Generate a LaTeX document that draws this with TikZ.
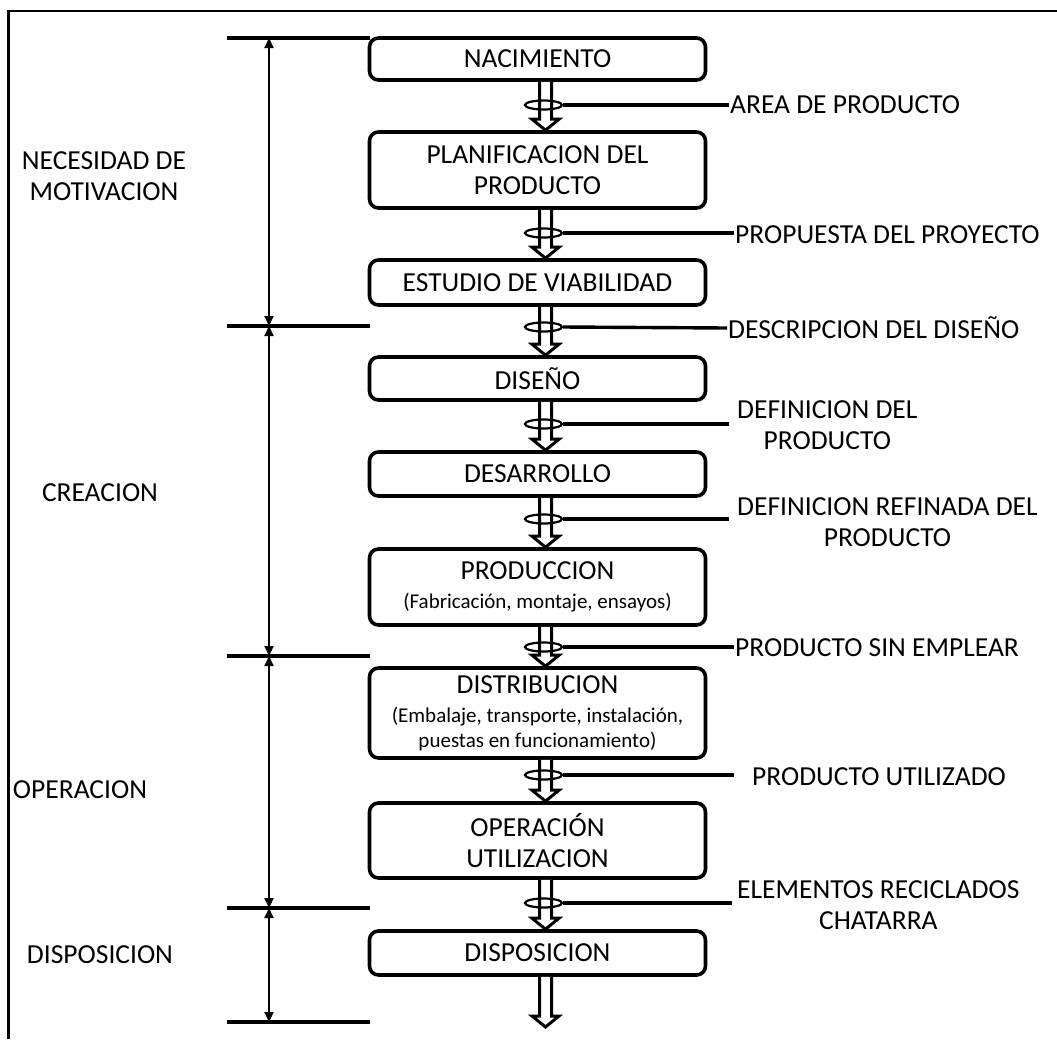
\documentclass[tikz,border=0pt]{standalone}
\usepackage{fontspec}
\setmainfont{Carlito}
\usetikzlibrary{shapes.geometric,arrows.meta,calc}

% hollow block arrow from a box bottom to the next box top
\newcommand{\flowarrow}[2]{%
  \draw[flow] let \p1=(#1), \p2=(#2) in
    (\x1+2pt,\y1) -- (\x1+2pt,\y2+11pt) -- (\x1-5.5pt,\y2+11pt) --
    (\x1+8pt,\y2) -- (\x1+21.5pt,\y2+11pt) -- (\x1+14pt,\y2+11pt) --
    (\x1+14pt,\y1);}

\begin{document}
\begin{tikzpicture}[x=1pt,y=-1pt,
  stage/.style={draw, line width=3.6pt, rounded corners=9pt, fill=white,
    minimum width=336pt, inner sep=0pt, align=center,
    font=\fontsize{27.5}{31}\selectfont},
  flow/.style={draw, fill=white, line width=3pt, line join=miter},
  ring/.style={ellipse, draw, line width=2.2pt, minimum width=37pt,
    minimum height=9pt, inner sep=0pt},
  lead/.style={line width=3.4pt},
  lbl/.style={inner sep=1pt, align=center, font=\fontsize{27.5}{31.5}\selectfont},
  rule/.style={line width=3.6pt},
  span/.style={line width=2.2pt, {Triangle[length=10pt,width=9pt]}-{Triangle[length=10pt,width=9pt]}},
  frame/.style={line width=2.8pt}]

\useasboundingbox (0,0) rectangle (1057,1039);

% outer frame (open at right and bottom)
\draw[frame] (8.5,1039) -- (8.5,11) -- (1057,11);

% life-cycle stages
\node[stage, minimum height=42pt] (nac) at (537.5,59) {NACIMIENTO};
\node[stage, minimum height=76pt] (plan) at (537.5,170) {PLANIFICACION DEL\\PRODUCTO};
\node[stage, minimum height=45pt] (est) at (537.5,282.5) {ESTUDIO DE VIABILIDAD};
\node[stage, minimum height=43pt] (dis) at (537.5,378.5) {DISEÑO};
\node[stage, minimum height=44pt] (des) at (537.5,474) {DESARROLLO};
\node[stage, minimum height=76pt] (prod) at (537.5,587) {PRODUCCION\\[-2pt]{\fontsize{21}{24}\selectfont (Fabricación, montaje, ensayos)}};
\node[stage, minimum height=90pt] (distr) at (537.5,713) {DISTRIBUCION\\[-2pt]{\fontsize{21}{24}\selectfont (Embalaje, transporte, instalación,}\\[-6pt]{\fontsize{21}{24}\selectfont puestas en funcionamiento)}};
\node[stage, minimum height=75pt] (oper) at (537.5,840.5) {OPERACIÓN\\UTILIZACION};
\node[stage, minimum height=44pt] (disp) at (537.5,953) {DISPOSICION};
\coordinate (fin) at (537.5,1027);

% flow arrows between stages
\flowarrow{nac.south}{plan.north}
\flowarrow{plan.south}{est.north}
\flowarrow{est.south}{dis.north}
\flowarrow{dis.south}{des.north}
\flowarrow{des.south}{prod.north}
\flowarrow{prod.south}{distr.north}
\flowarrow{distr.south}{oper.north}
\flowarrow{oper.south}{disp.north}
\flowarrow{disp.south}{fin}

% outputs of each stage
\node[ring] (r1) at (543.5,105) {};
\node[ring] (r2) at (543.5,233) {};
\node[ring] (r3) at (543.5,327) {};
\node[ring] (r4) at (543.5,424) {};
\node[ring] (r5) at (543.5,519) {};
\node[ring] (r6) at (543.5,647) {};
\node[ring] (r7) at (543.5,775) {};
\node[ring] (r8) at (543.5,903) {};

\node[lbl, anchor=west] (l1) at (729,105) {AREA DE PRODUCTO};
\node[lbl, anchor=west] (l2) at (734,235) {PROPUESTA DEL PROYECTO};
\node[lbl, anchor=west] (l3) at (727,328) {DESCRIPCION DEL DISEÑO};
\node[lbl, anchor=west] (l4) at (736,425) {DEFINICION DEL\\PRODUCTO};
\node[lbl, anchor=west] (l5) at (736,522) {DEFINICION REFINADA DEL\\PRODUCTO};
\node[lbl, anchor=west] (l6) at (734,648) {PRODUCTO SIN EMPLEAR};
\node[lbl, anchor=west] (l7) at (751,777) {PRODUCTO UTILIZADO};
\node[lbl, anchor=west] (l8) at (736,905) {ELEMENTOS RECICLADOS\\CHATARRA};

\draw[lead] (r1.east) -- (l1.west);
\draw[lead] (r2.east) -- (r2.east -| l2.west);
\draw[lead] (r3.east) -- (l3.west);
\draw[lead] (r4.east) -- ([xshift=-7pt]r4.east -| l4.west);
\draw[lead] (r5.east) -- ([xshift=-7pt]r5.east -| l5.west);
\draw[lead] (r6.east) -- (r6.east -| l6.west);
\draw[lead] (r7.east) -- ([xshift=-17pt]r7.east -| l7.west);
\draw[lead] (r8.east) -- ([xshift=-4pt]r8.east -| l8.west);

% phase limits on the left
\coordinate (m0) at (269,38);
\coordinate (m1) at (269,326);
\coordinate (m2) at (269,656);
\coordinate (m3) at (269,908);
\coordinate (m4) at (269,1022);
\foreach \m in {m0,m1,m2,m3,m4}
  \draw[rule] ([xshift=-42pt]\m) -- ([xshift=101pt]\m);
\draw[span] (m0) -- (m1);
\draw[span] (m1) -- (m2);
\draw[span] (m2) -- (m3);
\draw[span] (m3) -- (m4);

% phase names
\node[lbl] (p1) at (104,176) {NECESIDAD DE\\MOTIVACION};
\node[lbl] (p2) at (100,493) {CREACION};
\node[lbl] (p3) at (80,790) {OPERACION};
\node[lbl] (p4) at (100,955) {DISPOSICION};

\end{tikzpicture}
\end{document}
